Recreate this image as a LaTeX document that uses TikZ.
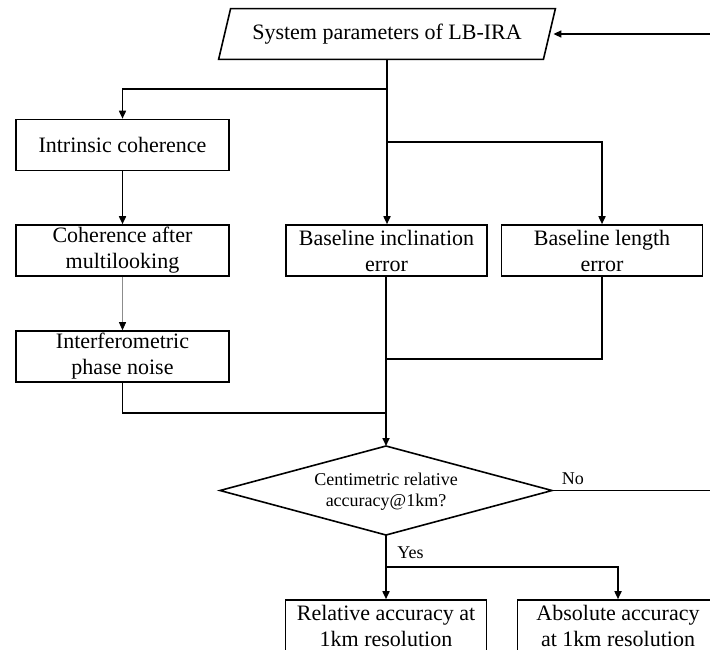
\documentclass[tikz,border=0pt]{standalone}
\usepackage{fontspec}
\setmainfont{Liberation Serif}
\usetikzlibrary{arrows.meta}

\begin{document}
\begin{tikzpicture}[
    x=0.5pt, y=-0.5pt,
    every node/.style={font=\fontsize{11}{13}\selectfont},
    box/.style={rectangle, draw=black, line width=0.8pt, minimum height=25.5pt, inner sep=0pt, align=center},
    wide/.style={box, minimum width=106.5pt},
    narrow/.style={box, minimum width=100.5pt},
    input/.style={rectangle, minimum width=162pt, minimum height=25pt, inner sep=0pt},
    decision/.style={inner sep=0pt, align=center, font=\fontsize{9}{10.5}\selectfont},
    flow/.style={line width=0.8pt, -{Triangle[length=4pt,width=3.5pt]}},
    merge/.style={line width=0.8pt},
    faint/.style={line width=0.4pt, draw=black!45, -{Triangle[length=4pt,width=3.5pt,color=black]}},
    lab/.style={font=\fontsize{9}{11}\selectfont}
  ]
    \useasboundingbox (0,0) rectangle (710,649);

    \node[input] (params) at (387,34) {System parameters of LB-IRA};
    \draw[merge] ([xshift=-3pt]params.south west) -- ([xshift=3pt]params.north west)
      -- ([xshift=3pt]params.north east) -- ([xshift=-3pt]params.south east) -- cycle;
    \node[wide] (intr) at (122.5,145) {Intrinsic coherence};
    \node[wide] (multi) at (122.5,250.5) {Coherence after\\multilooking};
    \node[wide] (phase) at (122.5,356.5) {Interferometric\\phase noise};
    \node[narrow] (incl) at (386.5,250.5) {Baseline inclination\\error};
    \node[narrow] (length) at (602,250.5) {Baseline length\\error};
    \node[decision] (check) at (386,492) {Centimetric relative\\accuracy@1km?};
    \coordinate (top) at (386,446);
    \coordinate (bot) at (386,535);
    \coordinate (left) at (220,490.5);
    \coordinate (right) at (552,490.5);
    \draw[merge] (top) -- (right) -- (bot) -- (left) -- cycle;
    \node[narrow] (rel) at (386,625.5) {Relative accuracy at\\1km resolution};
    \node[narrow] (abs) at (618,625.5) {Absolute accuracy\\at 1km resolution};
    \coordinate (back) at (712,490.5);

    \draw[flow] (params.south) -- (params.south |- incl.north);
    \draw[flow] (params.south |- 0,89) -| (intr.north);
    \draw[flow] (params.south |- 0,142) -| (length.north);
    \draw[flow] (intr.south) -- (multi.north);
    \draw[faint] (multi.south) -- (phase.north);
    \draw[merge] (phase.south) |- (top |- 0,413);
    \draw[merge] (length.south) |- (top |- 0,359);
    \draw[flow] (top |- incl.south) -- (top);
    \draw[flow] (bot) -- node[lab, pos=0.28, right=2pt] {Yes} (rel.north);
    \draw[flow] (bot |- 0,567) -| (abs.north);
    \draw[flow] (right) -- node[lab, pos=0.13, above=-1pt] {No} (back) |- ([xshift=2pt]params.east);
  \end{tikzpicture}
\end{document}
